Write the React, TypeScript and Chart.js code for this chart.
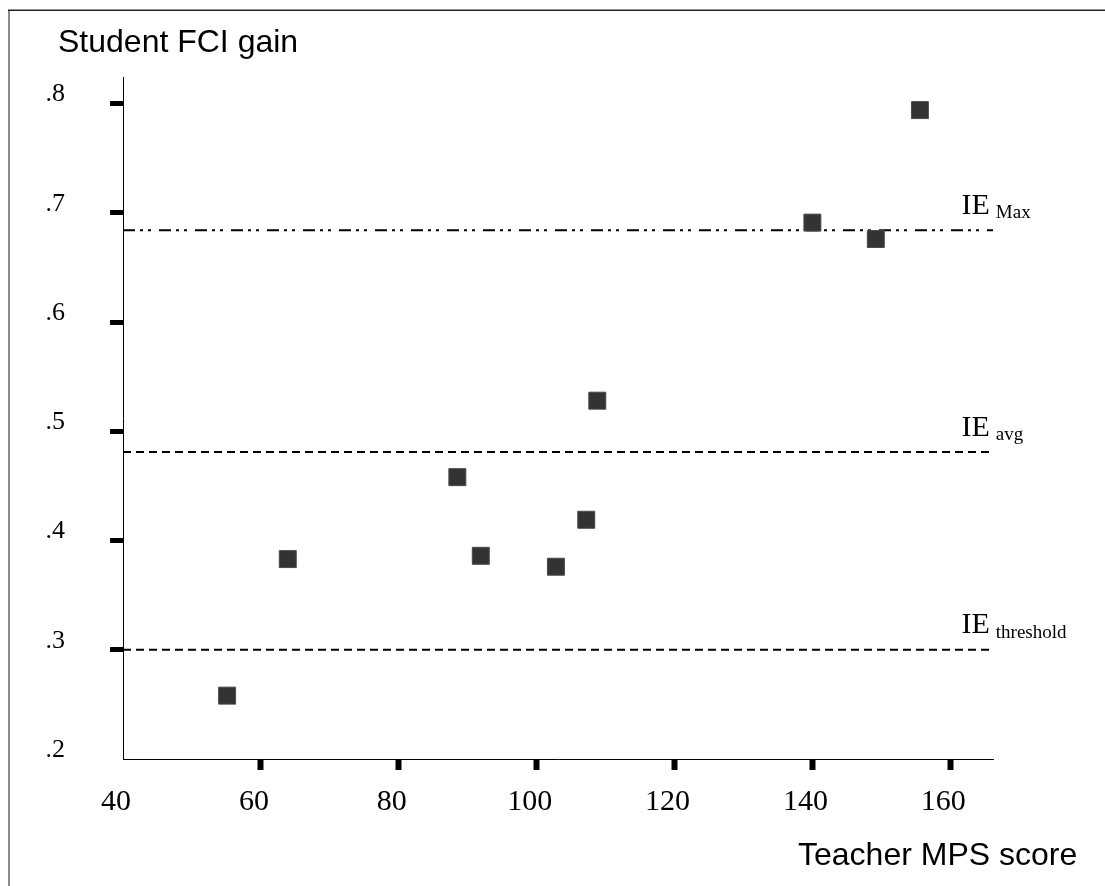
import React, { useEffect, useRef } from 'react';
import { Chart, registerables } from 'chart.js';

Chart.register(...registerables);

// ---- data ----
const teacherMPS = [55.1, 63.9, 88.5, 91.9, 102.8, 107.2, 108.8, 140.0, 149.2, 155.6];
const studentGain = [0.258, 0.383, 0.458, 0.386, 0.376, 0.419, 0.528, 0.691, 0.676, 0.794];

const refNames = ['Max', 'avg', 'threshold'];
const refValues = [0.684, 0.481, 0.3];

const xTicks = [40, 60, 80, 100, 120, 140, 160];
const xTickLabels = ['40', '60', '80', '100', '120', '140', '160'];
const yTicks = [0.2, 0.3, 0.4, 0.5, 0.6, 0.7, 0.8];
const yTickLabels = ['.2', '.3', '.4', '.5', '.6', '.7', '.8'];

const xRange = [40, 166.2];
const yRange = [0.2, 0.8243];

const yTitle = 'Student FCI gain';
const xTitle = 'Teacher MPS score';

const W = 1105;
const H = 886;

const dashPatterns = [
  [12, 5, 3, 5, 3, 8],
  [8, 5],
  [8, 5],
];

const decor = {
  id: 'decor',
  beforeDraw(chart: any) {
    const ctx = chart.ctx;
    ctx.save();
    ctx.fillStyle = '#ffffff';
    ctx.fillRect(0, 0, chart.width, chart.height);
    // frame (left and top edges)
    ctx.strokeStyle = '#8a8a8a';
    ctx.lineWidth = 2;
    ctx.beginPath();
    ctx.moveTo(9, 10);
    ctx.lineTo(9, chart.height);
    ctx.stroke();
    ctx.strokeStyle = '#222222';
    ctx.lineWidth = 1.5;
    ctx.beginPath();
    ctx.moveTo(8, 10.25);
    ctx.lineTo(chart.width, 10.25);
    ctx.stroke();
    ctx.restore();
  },
  afterDatasetsDraw(chart: any) {
    const ctx = chart.ctx;
    const yScale = chart.scales.y;
    ctx.save();
    ctx.fillStyle = '#000000';
    ctx.textAlign = 'left';
    ctx.textBaseline = 'alphabetic';
    refValues.forEach((v, i) => {
      const y = yScale.getPixelForValue(v);
      ctx.font = '30px "Liberation Serif"';
      ctx.fillText('IE', 961.5, y - 16.5);
      const wIE = ctx.measureText('IE').width;
      ctx.font = '19px "Liberation Serif"';
      ctx.fillText(refNames[i], 961.5 + wIE + 6, y - 12.2);
    });
    ctx.restore();
  },
  afterDraw(chart: any) {
    const ctx = chart.ctx;
    ctx.save();
    ctx.fillStyle = '#000000';
    ctx.textAlign = 'left';
    ctx.textBaseline = 'alphabetic';
    ctx.font = '32px "Liberation Sans"';
    ctx.fillText(yTitle, 58, 52);
    ctx.fillText(xTitle, 798, 865);
    ctx.restore();
  },
};

export default function App() {
  const ref = useRef<HTMLCanvasElement | null>(null);

  useEffect(() => {
    const canvas = ref.current;
    if (!canvas) return;

    const refDatasets = refValues.map((v, i) => ({
      type: 'line' as const,
      label: 'IE ' + refNames[i],
      data: [
        { x: xRange[0], y: v },
        { x: xRange[1], y: v },
      ],
      borderColor: '#000000',
      borderWidth: 2,
      borderDash: dashPatterns[i],
      pointRadius: 0,
      fill: false,
      order: 1,
    }));

    const chart = new Chart(canvas, {
      type: 'scatter',
      data: {
        datasets: [
          {
            type: 'scatter',
            label: 'Classes',
            data: teacherMPS.map((x, i) => ({ x, y: studentGain[i] })),
            pointStyle: 'rect',
            radius: 12,
            pointRadius: 12,
            backgroundColor: '#333333',
            borderColor: '#4a4a4a',
            borderWidth: 1,
            order: 0,
          } as any,
          ...refDatasets,
        ],
      },
      options: {
        animation: false,
        responsive: false,
        devicePixelRatio: 1,
        layout: {
          padding: { left: 0, top: 77, right: W - 993, bottom: 0 },
        },
        plugins: {
          legend: { display: false },
          tooltip: { enabled: false },
          title: { display: false },
        },
        scales: {
          x: {
            type: 'linear',
            min: xRange[0],
            max: xRange[1],
            afterBuildTicks: (s: any) => {
              s.ticks = xTicks.map((value) => ({ value }));
            },
            afterFit: (s: any) => {
              s.height = H - 759;
            },
            border: { display: true, color: '#000000', width: 1 },
            grid: {
              drawOnChartArea: false,
              drawTicks: true,
              tickLength: 11,
              tickWidth: 6,
              tickColor: (c: any) => (c.tick && c.tick.value === xTicks[0] ? 'rgba(0,0,0,0)' : '#000000'),
            },
            ticks: {
              color: '#000000',
              font: { family: 'Liberation Serif', size: 30 },
              padding: 14,
              labelOffset: -7,
              maxRotation: 0,
              autoSkip: false,
              callback: (_v: any, i: number) => xTickLabels[i],
            },
          },
          y: {
            type: 'linear',
            min: yRange[0],
            max: yRange[1],
            afterBuildTicks: (s: any) => {
              s.ticks = yTicks.map((value) => ({ value }));
            },
            afterFit: (s: any) => {
              s.width = 123;
            },
            border: { display: true, color: '#000000', width: 1 },
            grid: {
              drawOnChartArea: false,
              drawTicks: true,
              tickLength: 13,
              tickWidth: 5,
              tickColor: (c: any) => (c.tick && c.tick.value === yTicks[0] ? 'rgba(0,0,0,0)' : '#000000'),
            },
            ticks: {
              color: '#000000',
              font: { family: 'Liberation Serif', size: 26 },
              padding: 45,
              labelOffset: -9,
              autoSkip: false,
              callback: (_v: any, i: number) => yTickLabels[i],
            },
          },
        },
      } as any,
      plugins: [decor],
    });

    return () => {
      chart.destroy();
    };
  }, []);

  return (
    <canvas
      ref={ref}
      width={W}
      height={H}
      style={{ position: 'fixed', left: 0, top: 0, display: 'block', width: W, height: H }}
    />
  );
}
